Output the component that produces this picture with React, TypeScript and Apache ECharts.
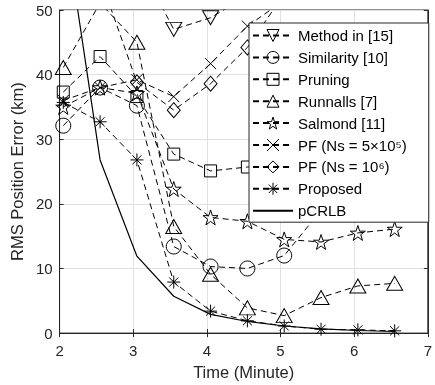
import React, { useEffect, useRef } from "react";
import * as echarts from "echarts";

const times = [2.05, 2.55, 3.05, 3.55, 4.05, 4.55, 5.05, 5.55, 6.05, 6.55];
const xTicks = [2, 3, 4, 5, 6, 7];
const yTicks = [0, 10, 20, 30, 40, 50];

const method15 = [70, 64, 58, 47, 48.8, 52.2, 56];
const similarity10 = [32.1, 38, 35.2, 13.4, 10.3, 10, 12, 19];
const pruning = [37.3, 42.8, 36.6, 27.7, 25.1, 25.7, 26.2];
const runnalls7 = [41.1, 51.1, 45, 16.5, 9.1, 3.9, 2.7, 5.5, 7.3, 7.7];
const salmond11 = [35, 38, 37.1, 22.3, 17.9, 17.3, 14.5, 14.1, 15.5, 16.1];
const pf5e5 = [36, 38, 39.2, 36.6, 41.7, 47.5, 51.5];
const pf1e6 = [60, 55, 38.8, 34.5, 38.6, 44.2, 52.5];
const proposed = [35.7, 32.7, 26.8, 7.9, 3.4, 1.9, 1.1, 0.6, 0.5, 0.35];
const pcrlb = [65, 26.8, 11.9, 5.7, 2.9, 1.8, 1.1, 0.65, 0.4, 0.25];

const seriesNames = [
  "Method in [15]",
  "Similarity [10]",
  "Pruning",
  "Runnalls [7]",
  "Salmond [11]",
  "PF (Ns = 5×10⁵)",
  "PF (Ns = 10⁶)",
  "Proposed",
  "pCRLB",
];

const STAR =
  "path://M50,0 L61.8,35.3 L98.9,35.3 L68.9,57.1 L80.2,92.6 L50,70.8 L19.8,92.6 L31.1,57.1 L1.1,35.3 L38.2,35.3 Z";
const XMARK = "path://M0,0 L10,10 M10,0 L0,10";
const ASTER = "path://M5,0 L5,10 M0,5 L10,5 M1.5,1.5 L8.5,8.5 M8.5,1.5 L1.5,8.5";

const FONT = "Liberation Sans, Arial, sans-serif";
const HOLLOW = { color: "rgba(0,0,0,0)", borderColor: "#000", borderWidth: 1 };

function pairs(vals: number[]) {
  return vals.map((v, i) => [times[i], v]);
}

export default function App() {
  const ref = useRef<HTMLDivElement>(null);
  useEffect(() => {
    if (!ref.current) return;
    const chart = echarts.init(ref.current, undefined, { renderer: "svg" });
    const dashed = (name: string, vals: number[], symbol: string, size: any, rotate = 0) => ({
      name,
      type: "line",
      data: pairs(vals),
      symbol,
      symbolSize: size,
      symbolRotate: rotate,
      showAllSymbol: true,
      lineStyle: { color: "#000", width: 1, type: [6, 4] },
      itemStyle: HOLLOW,
      emphasis: { disabled: true },
      z: 2,
    });
    const axisCommon = {
      axisLine: { show: true, lineStyle: { color: "#262626", width: 1 } },
      axisTick: { show: true, inside: true, length: 4, lineStyle: { color: "#262626" } },
    };
    chart.setOption({
      animation: false,
      textStyle: { fontFamily: FONT },
      grid: {
        left: 58,
        right: 5,
        top: 10,
        bottom: 51,
        show: true,
        borderColor: "#262626",
        borderWidth: 1,
        backgroundColor: "transparent",
      },
      xAxis: [
        {
          type: "value",
          min: xTicks[0],
          max: xTicks[xTicks.length - 1],
          interval: 1,
          name: "Time (Minute)",
          nameLocation: "middle",
          nameGap: 27,
          nameTextStyle: { fontSize: 16.5, color: "#262626", fontFamily: FONT },
          axisLabel: {
            fontSize: 15,
            color: "#262626",
            margin: 10,
            fontFamily: FONT,
            showMaxLabel: true,
            showMinLabel: true,
          },
          splitLine: { show: true, lineStyle: { color: "#e0e0e0", width: 1 } },
          ...axisCommon,
        },
        {
          type: "value",
          position: "top",
          min: xTicks[0],
          max: xTicks[xTicks.length - 1],
          interval: 1,
          axisLabel: { show: false },
          splitLine: { show: false },
          ...axisCommon,
        },
      ],
      yAxis: [
        {
          type: "value",
          min: yTicks[0],
          max: yTicks[yTicks.length - 1],
          interval: 10,
          name: "RMS Position Error (km)",
          nameLocation: "middle",
          nameGap: 28,
          nameTextStyle: { fontSize: 16.5, color: "#262626", fontFamily: FONT },
          axisLabel: { fontSize: 15, color: "#262626", margin: 7, fontFamily: FONT },
          splitLine: { show: true, lineStyle: { color: "#e0e0e0", width: 1 } },
          ...axisCommon,
        },
        {
          type: "value",
          position: "right",
          min: yTicks[0],
          max: yTicks[yTicks.length - 1],
          interval: 10,
          axisLabel: { show: false },
          splitLine: { show: false },
          ...axisCommon,
        },
      ],
      legend: {
        orient: "vertical",
        left: 249,
        top: 23,
        padding: [5, 22, 4, 3],
        itemWidth: 40,
        itemHeight: 15,
        itemGap: 6.9,
        backgroundColor: "#fff",
        borderColor: "#262626",
        borderWidth: 1,
        selectedMode: false,
        textStyle: { fontSize: 15, color: "#000", fontFamily: FONT },
        data: [
          ...seriesNames.slice(0, 8).map((n) => ({ name: n, itemStyle: HOLLOW })),
          {
            name: seriesNames[8],
            itemStyle: { color: "rgba(0,0,0,0)", borderColor: "rgba(0,0,0,0)", borderWidth: 0 },
          },
        ],
      },
      series: [
        dashed(seriesNames[0], method15, "triangle", [16, 14], 180),
        dashed(seriesNames[1], similarity10, "circle", 15),
        dashed(seriesNames[2], pruning, "rect", 12),
        dashed(seriesNames[3], runnalls7, "triangle", [16, 14]),
        dashed(seriesNames[4], salmond11, STAR, 15),
        dashed(seriesNames[5], pf5e5, XMARK, 11),
        dashed(seriesNames[6], pf1e6, "diamond", [13, 15]),
        dashed(seriesNames[7], proposed, ASTER, 13),
        {
          name: seriesNames[8],
          type: "line",
          data: pairs(pcrlb),
          symbol: "none",
          lineStyle: { color: "#000", width: 1.2, type: "solid" },
          itemStyle: { color: "#000" },
          emphasis: { disabled: true },
          z: 2,
        },
      ],
    });
    return () => chart.dispose();
  }, []);
  return (
    <div
      ref={ref}
      style={{ position: "fixed", left: 0, top: 0, width: 435, height: 385 }}
    />
  );
}
